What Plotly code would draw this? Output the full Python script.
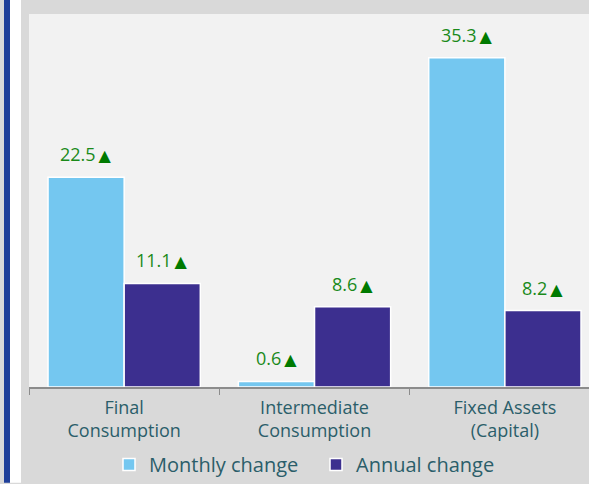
import plotly.graph_objects as go

categories = ["Final<br>Consumption", "Intermediate<br>Consumption", "Fixed Assets<br>(Capital)"]
monthly = [22.5, 0.6, 35.3]
annual = [11.1, 8.6, 8.2]

FONT = "Open Sans"
TEAL = "#2b5e6a"
GREEN = "#1a8a1a"

fig = go.Figure()
fig.add_trace(go.Bar(
    x=categories, y=monthly, name="Monthly change",
    marker=dict(color="#74c7f0", line=dict(color="white", width=1.5)),
))
fig.add_trace(go.Bar(
    x=categories, y=annual, name="Annual change",
    marker=dict(color="#3c2f8f", line=dict(color="white", width=1.5)),
))

# value labels above each bar
for series, shift in ((monthly, -38), (annual, 38)):
    for cat, val in zip(categories, series):
        fig.add_annotation(
            x=cat, y=val, xshift=shift, yshift=9,
            text=f"{val}\u2009<span style='color:#007a00;font-family:DejaVu Sans;font-size:16px'>▲</span>",
            showarrow=False, yanchor="bottom",
            font=dict(family=FONT, size=18, color=GREEN),
        )

# left stripe decoration
fig.add_shape(type="rect", xref="paper", yref="paper",
              x0=-25/560, x1=-19/560, y0=-96/374, y1=1 + 14/374,
              fillcolor="#1f3f99", line_width=0)
fig.add_shape(type="rect", xref="paper", yref="paper",
              x0=-19/560, x1=-8/560, y0=-96/374, y1=1 + 14/374,
              fillcolor="white", line_width=0)

fig.update_layout(
    width=589, height=484,
    margin=dict(l=29, r=0, t=14, b=96),
    paper_bgcolor="#d9d9d9", plot_bgcolor="#f2f2f2",
    barmode="group", bargap=0.2, bargroupgap=0,
    font=dict(family=FONT, color=TEAL),
    showlegend=True,
    legend=dict(orientation="h", x=0.5125, xanchor="center", y=-0.209, yanchor="middle",
                font=dict(size=20, color=TEAL), itemwidth=30, traceorder="normal",
                entrywidth=162, bgcolor="rgba(0,0,0,0)"),
    xaxis=dict(range=[-0.5, 2.442], tickson="boundaries", ticks="outside", ticklen=6,
               tickcolor="#8c8c8c", showline=True, linecolor="#8c8c8c", linewidth=2,
               ticklabelstandoff=3,
               tickfont=dict(size=18, color=TEAL), showgrid=False),
    yaxis=dict(range=[0, 40], visible=False, showgrid=False),
)

fig.write_html("out.html", config={"displayModeBar": False},
               post_script="document.body.style.margin='0';")
